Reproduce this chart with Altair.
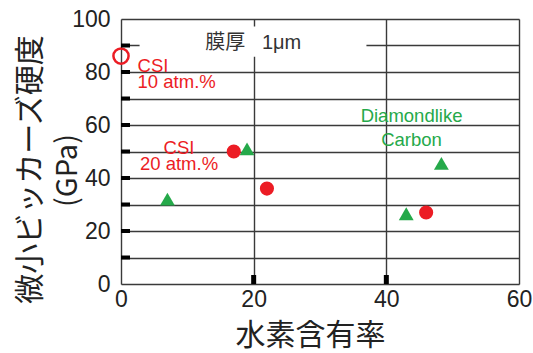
import altair as alt
import pandas as pd

# Hydrogen content (%) vs. micro-Vickers hardness (GPa)
csi_x = [17, 22, 46]
csi_y = [50, 36, 27]
csi_open_x = [0]
csi_open_y = [86]
dlc_x = [7, 19, 43, 48.3]
dlc_y = [32, 51, 26.5, 45.5]

x_ticks = [0, 20, 40, 60]
y_ticks = [0, 10, 20, 30, 40, 50, 60, 70, 80, 90, 100]
y_minor = [10, 20, 30, 40, 50, 60, 70, 80, 90]
x_minor = [20, 40]

RED = "#ec1c24"
GREEN = "#25a94a"
CJK = "Noto Sans CJK JP"
LATIN = "Liberation Sans"
MIXED = "Liberation Sans, Noto Sans CJK JP"

W, H = 398, 265

x_scale = alt.Scale(domain=[0, 60], nice=False, zero=False)
y_scale = alt.Scale(domain=[0, 100], nice=False, zero=False)


def X(field="x:Q"):
    return alt.X(field, scale=x_scale)


def Y(field="y:Q"):
    # overlay layers share the y scale but draw no axis of their own
    return alt.Y(field, scale=y_scale, axis=None)


csi = pd.DataFrame({"x": csi_x, "y": csi_y})
csi_open = pd.DataFrame({"x": csi_open_x, "y": csi_open_y})
dlc = pd.DataFrame({"x": dlc_x, "y": dlc_y})

# base layer carries the axes and grid
base = alt.Chart(csi).mark_point(opacity=0).encode(
    x=alt.X("x:Q", scale=x_scale,
            axis=alt.Axis(title="水素含有率", values=x_ticks, grid=True,
                          gridColor="#3a3a3a", gridWidth=1.4,
                          domain=False, ticks=False,
                          labelFont=LATIN, labelFontSize=23, labelColor="#222",
                          labelPadding=4, labelFlush=False,
                          titleFont=CJK, titleFontSize=30, titleFontWeight="normal",
                          titleColor="#222", titleX=189, titleY=51,
                          titleBaseline="middle", titleAlign="center")),
    y=alt.Y("y:Q", scale=y_scale,
            axis=alt.Axis(title="微小ビッカーズ硬度", values=y_ticks, orient="left",
                          labelExpr="datum.value % 20 === 0 ? datum.label : ''",
                          grid=True, gridColor="#3a3a3a", gridWidth=1.4,
                          domain=False, ticks=False,
                          labelFont=LATIN, labelFontSize=23, labelColor="#222",
                          labelPadding=11, labelFlush=False,
                          titleFont=CJK, titleFontSize=30, titleFontWeight="normal",
                          titleColor="#222", titleAngle=270, titleX=-91, titleY=150,
                          titleBaseline="middle", titleAlign="center")),
)

# second line of the y title: unit, on its own label-less axis
unit_axis = alt.Chart(dlc).mark_point(opacity=0).encode(
    y=alt.Y("y:Q", scale=y_scale,
            axis=alt.Axis(title="(GPa)", orient="left", labels=False, ticks=False,
                          domain=False, grid=False,
                          titleFont=CJK, titleFontSize=29, titleFontWeight="normal",
                          titleColor="#222", titleAngle=270, titleX=-54, titleY=151,
                          titleBaseline="middle", titleAlign="center")),
)

# white backing box behind the film-thickness note
box_x, box_x2, box_y, box_y2 = [2.8], [37], [85.8], [97.2]
box = alt.Chart(pd.DataFrame({"x": box_x, "x2": box_x2, "y": box_y, "y2": box_y2})).mark_rect(
    color="white").encode(x=X(), x2="x2:Q", y=Y(), y2="y2:Q")

# inward tick stubs
ytick = alt.Chart(pd.DataFrame({"y": y_minor})).mark_rule(
    color="black", strokeWidth=4).encode(y=Y(), x=alt.value(0), x2=alt.value(9))
xtick = alt.Chart(pd.DataFrame({"x": x_minor})).mark_rule(
    color="black", strokeWidth=5).encode(x=X(), y=alt.value(H - 9), y2=alt.value(H))

csi_pts = alt.Chart(csi).mark_point(shape="circle", filled=True, color=RED,
                                    size=200, opacity=1).encode(x=X(), y=Y())
csi_open_pts = alt.Chart(csi_open).mark_point(shape="circle", filled=False,
                                              color=RED, size=230,
                                              strokeWidth=2.5, opacity=1).encode(x=X(), y=Y())
dlc_pts = alt.Chart(dlc).mark_point(shape="triangle-up", filled=True, color=GREEN,
                                    size=220, opacity=1).encode(x=X(), y=Y())

# annotations
note_text = ["CSI", "10 atm.%", "CSI", "20 atm.%", "Diamondlike", "Carbon"]
note_x = [2.5, 2.5, 8.75, 8.75, 43.8, 43.8]
note_y = [82.4, 76.4, 51.2, 45.4, 63.4, 54.3]
note_align = ["left", "left", "center", "center", "center", "center"]
note_color = [RED, RED, RED, RED, GREEN, GREEN]
notes = pd.DataFrame({"t": note_text, "x": note_x, "y": note_y,
                      "a": note_align, "c": note_color})

film_text = ["膜厚\u00a0\u00a0\u00a01μm"]
film_x = [12.7]
film_y = [91.0]
film = pd.DataFrame({"t": film_text, "x": film_x, "y": film_y})


def note_layer(df, align):
    return alt.Chart(df).mark_text(align=align, baseline="middle",
                                   font=LATIN, fontSize=18.5).encode(
        x=X(), y=Y(), text="t:N", color=alt.Color("c:N", scale=None))


labels_left = note_layer(notes[notes.a == "left"], "left")
labels_center = note_layer(notes[notes.a == "center"], "center")
label_film = alt.Chart(film).mark_text(align="left", baseline="middle",
                                       font=MIXED, fontSize=20,
                                       color="#333333").encode(
    x=X(), y=Y(), text="t:N")

chart = alt.layer(
    base, unit_axis, box, labels_left, labels_center, label_film,
    dlc_pts, csi_pts, csi_open_pts, ytick, xtick
).resolve_axis(
    y="independent"
).properties(
    width=W, height=H,
    autosize="none",
    padding={"left": 121, "top": 19, "right": 14, "bottom": 69},
).configure_view(
    stroke="black", strokeWidth=3
).configure(background="white")

chart.save("out.html", embed_options={"renderer": "svg", "actions": False})
